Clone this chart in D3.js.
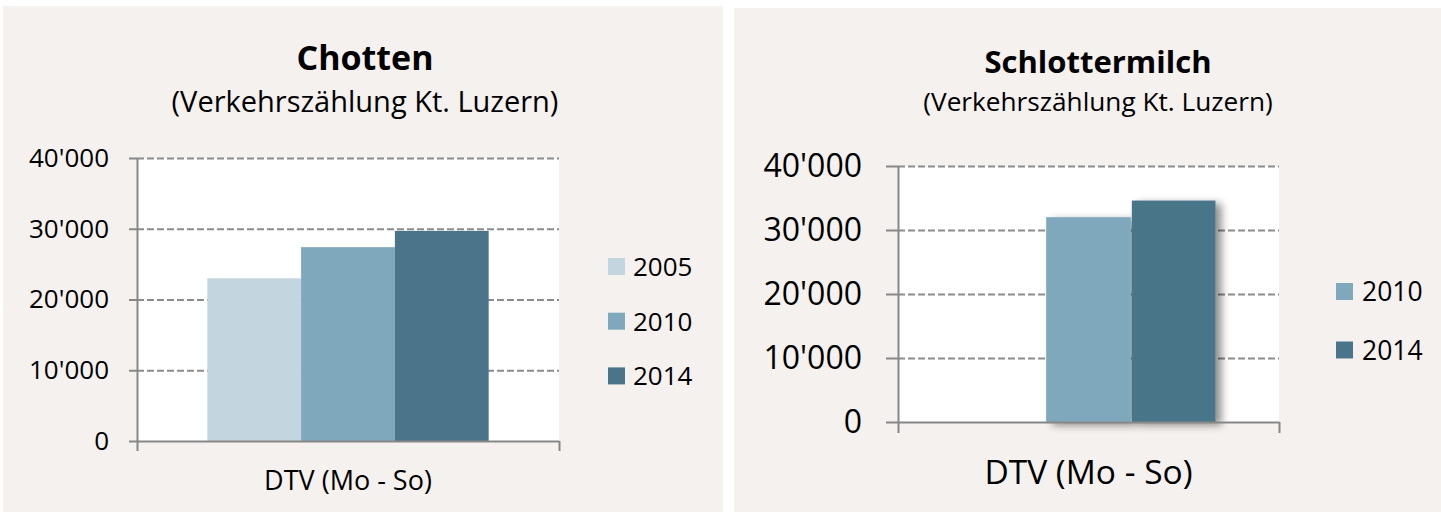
<!DOCTYPE html>
<html>
<head>
<meta charset="utf-8">
<script src="https://cdn.jsdelivr.net/npm/d3@7"></script>
<style>
  body { margin: 0; background: #fff; }
  svg { display: block; }
  text { font-family: "Open Sans", sans-serif; fill: #000; }
</style>
</head>
<body>
<svg id="chart" width="1441" height="512"></svg>
<script>
// data
const years = ['2005', '2010', '2014'];
const yearColors = ['#c3d6df', '#7fa8bc', '#4a7489'];
const category = ['DTV (Mo - So)'];
const chottenValues = [23000, 27400, 29700];
const schlotterValues = [null, 32000, 34600];   // no 2005 count
const yTickValues = [0, 10000, 20000, 30000, 40000];
const subtitle = '(Verkehrszählung Kt. Luzern)';

// swiss number format 40'000
const fmt = d3.formatLocale({decimal: '.', thousands: "'", grouping: [3], currency: ['', '']}).format(',');

const svg = d3.select('#chart');

// soft shadow, only the right chart has it
const filter = svg.append('defs').append('filter')
  .attr('id', 'shadow')
  .attr('x', '-20%').attr('y', '-10%')
  .attr('width', '160%').attr('height', '130%');
filter.append('feGaussianBlur').attr('in', 'SourceAlpha').attr('stdDeviation', 4);
filter.append('feOffset').attr('dx', 6).attr('dy', 3).attr('result', 'blur');
filter.append('feComponentTransfer').attr('result', 'soft')
  .append('feFuncA').attr('type', 'linear').attr('slope', 0.45);
const merge = filter.append('feMerge');
merge.append('feMergeNode').attr('in', 'soft');
merge.append('feMergeNode').attr('in', 'SourceGraphic');

function drawChart(o) {
  const g = svg.append('g');

  g.append('rect')
    .attr('x', o.panel[0]).attr('y', o.panel[1])
    .attr('width', o.panel[2]).attr('height', o.panel[3])
    .attr('fill', '#f4f1ee');

  // titles
  g.append('text')
    .attr('x', o.titleX).attr('y', o.titleY)
    .attr('text-anchor', 'middle')
    .style('font-weight', 700)
    .style('font-size', o.titleSize + 'px')
    .text(o.title);
  g.append('text')
    .attr('x', o.titleX).attr('y', o.subY)
    .attr('text-anchor', 'middle')
    .style('font-size', o.subSize + 'px')
    .text(subtitle);

  const y = d3.scaleLinear().domain([0, 40000]).range([o.plot.bottom, o.plot.top]);
  const x0 = d3.scaleBand().domain(category)
    .range([o.plot.left, o.plot.right]).paddingOuter(0.25).paddingInner(0);
  const x1 = d3.scaleBand().domain(years).range([0, x0.bandwidth()]);

  // white plot area
  g.append('rect')
    .attr('x', o.plot.left).attr('y', o.plot.top)
    .attr('width', o.plot.right - o.plot.left)
    .attr('height', o.plot.bottom - o.plot.top)
    .attr('fill', '#fff');

  // dashed grid
  const grid = g.append('g')
    .attr('transform', `translate(${o.plot.left},0)`)
    .call(d3.axisLeft(y).tickValues(yTickValues.slice(1))
      .tickSize(-(o.plot.right - o.plot.left)).tickFormat(''));
  grid.select('.domain').remove();
  grid.selectAll('line')
    .attr('stroke', '#8c8c8c')
    .attr('stroke-width', 2)
    .attr('stroke-dasharray', '7,3');

  // bars
  const bars = g.append('g');
  if (o.shadow) bars.attr('filter', 'url(#shadow)');
  const barData = years.map((yr, i) => ({year: yr, value: o.values[i], color: yearColors[i]}))
    .filter(d => d.value != null);
  const gap = o.shadow ? 1 : 0;   // thin white seam between the shadowed bars
  bars.selectAll('rect')
    .data(barData)
    .join('rect')
    .attr('x', d => x0(category[0]) + x1(d.year) + (d.year === years[2] ? gap : 0))
    .attr('y', d => y(d.value))
    .attr('width', d => x1.bandwidth() - (d.year === years[2] ? gap : 0))
    .attr('height', d => y(0) - y(d.value))
    .attr('fill', d => d.color);

  // y axis with ticks + labels
  const yAxis = g.append('g')
    .attr('transform', `translate(${o.plot.left},0)`)
    .call(d3.axisLeft(y).tickValues(yTickValues).tickFormat(fmt)
      .tickSize(o.tickLen).tickSizeOuter(0).tickPadding(o.tickPad));
  yAxis.select('.domain').attr('stroke', '#878787').attr('stroke-width', 2);
  yAxis.selectAll('.tick line').attr('stroke', '#878787').attr('stroke-width', 2);
  yAxis.selectAll('.tick text')
    .style('font-size', o.tickSize + 'px')
    .style('font-family', '"Open Sans", sans-serif')
    .attr('fill', '#000');

  // x axis: a single category, ticks on both edges
  const xEdge = d3.scaleLinear().domain([0, 1]).range([o.plot.left, o.plot.right]);
  const xAxis = g.append('g')
    .attr('transform', `translate(0,${o.plot.bottom})`)
    .call(d3.axisBottom(xEdge).tickValues([0, 1]).tickFormat('')
      .tickSize(o.xTickLen).tickSizeOuter(0));
  xAxis.select('.domain').attr('stroke', '#878787').attr('stroke-width', 2);
  xAxis.selectAll('.tick line').attr('stroke', '#878787').attr('stroke-width', 2);

  g.append('text')
    .attr('x', x0(category[0]) + x0.bandwidth() / 2)
    .attr('y', o.labelY)
    .attr('text-anchor', 'middle')
    .style('font-size', o.labelSize + 'px')
    .text(category[0]);

  // legend
  const leg = g.append('g')
    .selectAll('g')
    .data(barData)
    .join('g')
    .attr('transform', (d, i) => `translate(${o.legend.x},${o.legend.y + i * o.legend.step})`);
  leg.append('rect')
    .attr('x', 0).attr('y', -o.legend.box / 2)
    .attr('width', o.legend.box).attr('height', o.legend.box)
    .attr('fill', d => d.color);
  leg.append('text')
    .attr('x', o.legend.textDx)
    .attr('dy', '0.36em')
    .style('font-size', o.legend.size + 'px')
    .text(d => d.year);
}

drawChart({
  panel: [3, 6, 720, 506],
  plot: {left: 137, right: 559, top: 158, bottom: 441},
  values: chottenValues,
  title: 'Chotten', titleX: 365, titleY: 70, titleSize: 34,
  subY: 112, subSize: 29,
  tickSize: 26, tickLen: 8, tickPad: 20,
  xTickLen: 10,
  labelY: 490, labelSize: 27,
  legend: {x: 608, y: 266.5, step: 54.7, box: 17, textDx: 25, size: 26},
  shadow: false
});

drawChart({
  panel: [734, 8, 707, 504],
  plot: {left: 898, right: 1279, top: 166, bottom: 422},
  values: schlotterValues,
  title: 'Schlottermilch', titleX: 1098, titleY: 73, titleSize: 31,
  subY: 111, subSize: 26.2,
  tickSize: 32, tickLen: 12, tickPad: 24,
  xTickLen: 11,
  labelY: 484, labelSize: 33.5,
  legend: {x: 1336, y: 291.5, step: 58.5, box: 17, textDx: 26, size: 26.5},
  shadow: true
});
</script>
</body>
</html>
